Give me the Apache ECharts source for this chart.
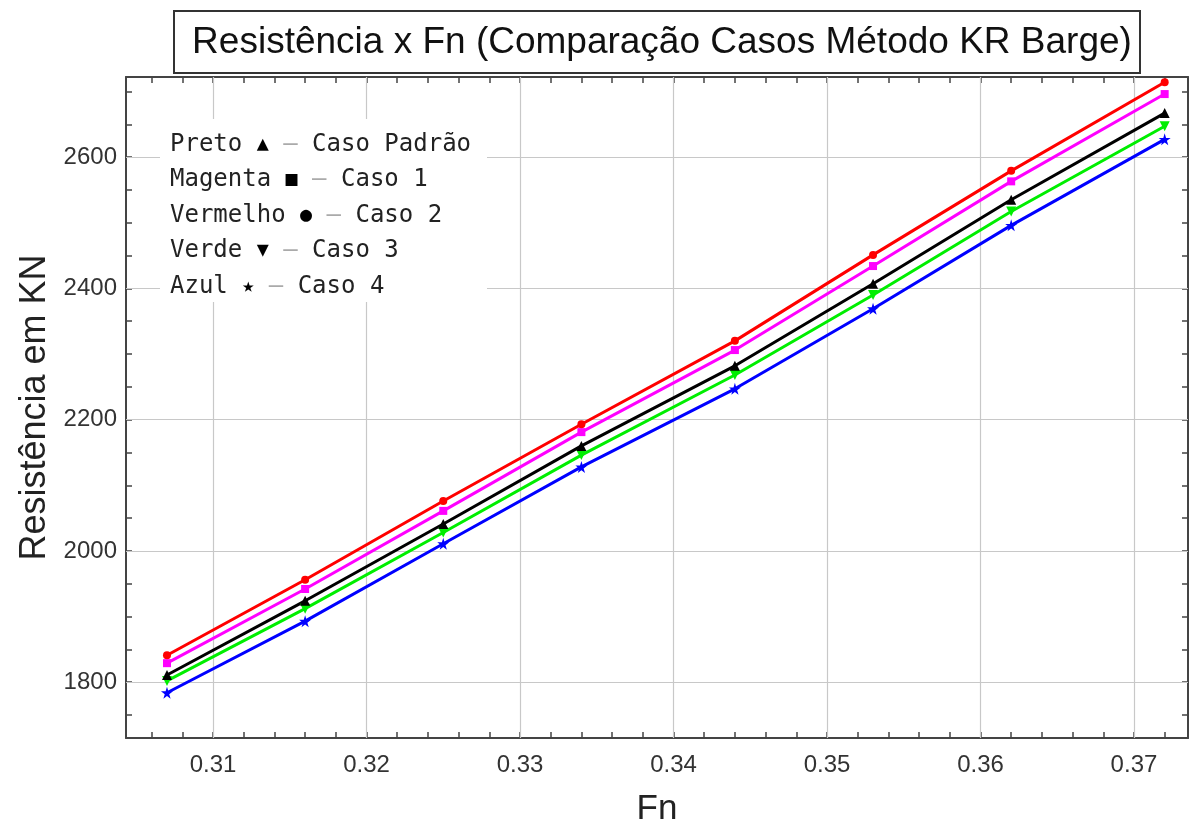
<!DOCTYPE html>
<html>
<head>
<meta charset="utf-8">
<script src="https://cdn.jsdelivr.net/npm/echarts@6/dist/echarts.min.js"></script>
<style>html,body{margin:0;padding:0;background:#fff;}#c{width:1192px;height:820px;}</style>
</head>
<body>
<div id="c"></div>
<script>
// ---- data ----
var fn = [0.307, 0.316, 0.325, 0.334, 0.344, 0.353, 0.362, 0.372];
var preto    = [1811, 1924, 2041, 2160, 2282, 2407, 2535, 2667];
var magenta  = [1829, 1942, 2061, 2181, 2306, 2434, 2563, 2696];
var vermelho = [1841, 1956, 2076, 2193, 2320, 2451, 2579, 2714];
var verde    = [1802, 1912, 2028, 2146, 2268, 2390, 2517, 2647];
var azul     = [1784, 1893, 2011, 2128, 2247, 2369, 2496, 2627];
var xMajor = [0.31, 0.32, 0.33, 0.34, 0.35, 0.36, 0.37];
var yMajor = [1800, 2000, 2200, 2400, 2600];
var titleText = 'Resistência x Fn (Comparação Casos Método KR Barge)';
var legendLines = [
  ['Preto', '▲', 'Caso Padrão'],
  ['Magenta', '■', 'Caso 1'],
  ['Vermelho', '●', 'Caso 2'],
  ['Verde', '▼', 'Caso 3'],
  ['Azul', '★', 'Caso 4']
];

var xMin = 0.30433, xMax = 0.37352, yMin = 1715, yMax = 2722;
var xTicks = [], yTicks = [];
for (var i = 153; i <= 186; i++) xTicks.push(+(i * 0.002).toFixed(3));
for (var j = 35; j <= 54; j++) yTicks.push(j * 50);

function pairs(ys) { return fn.map(function (x, k) { return [x, ys[k]]; }); }

var starPath = 'path://M50,0 L61,35 L98,35 L68,57 L79,91 L50,70 L21,91 L32,57 L2,35 L39,35 Z';
var downTri = 'path://M0,0 L10,0 L5,9 Z';

var frame = { show: true, lineStyle: { color: '#444', width: 2 } };
var tickStyle = function (vals) {
  return { show: true, inside: true, length: 6, customValues: vals, lineStyle: { color: '#444', width: 1.5 } };
};
var labelFont = { fontFamily: 'Liberation Sans, Arial, sans-serif', fontSize: 24, color: '#333' };

function mkSeries(name, ys, color, symbol, size) {
  return {
    name: name, type: 'line', data: pairs(ys), z: 5,
    lineStyle: { color: color, width: 3 },
    itemStyle: { color: color },
    symbol: symbol, symbolSize: size, showSymbol: true
  };
}

var legendText = legendLines.map(function (l) {
  return l[0] + ' {m|' + l[1] + '} {d|–} ' + l[2];
}).join('\n');

var chart = echarts.init(document.getElementById('c'));
chart.setOption({
  animation: false,
  backgroundColor: '#fff',
  grid: { left: 126, right: 4, top: 77, bottom: 82, containLabel: false, outerBoundsMode: 'none' },
  xAxis: [{
    type: 'value', min: xMin, max: xMax, position: 'bottom',
    axisLine: frame, axisTick: tickStyle(xTicks),
    axisLabel: Object.assign({ customValues: xMajor, margin: 15, formatter: function (v) { return v.toFixed(2); } }, labelFont),
    splitLine: { show: false },
    name: 'Fn', nameLocation: 'middle', nameGap: 54,
    nameTextStyle: { fontFamily: 'Liberation Sans, Arial, sans-serif', fontSize: 35, color: '#222' }
  }, {
    type: 'value', min: xMin, max: xMax, position: 'top',
    axisLine: frame, axisTick: tickStyle(xTicks),
    axisLabel: { show: false }, splitLine: { show: false }
  }],
  yAxis: [{
    type: 'value', min: yMin, max: yMax, position: 'left',
    axisLine: frame, axisTick: tickStyle(yTicks),
    axisLabel: Object.assign({ customValues: yMajor, margin: 9, formatter: function (v) { return String(v); } }, labelFont),
    splitLine: { show: false },
    name: 'Resistência em KN', nameLocation: 'middle', nameGap: 68, nameRotate: 90,
    nameTextStyle: { fontFamily: 'Liberation Sans, Arial, sans-serif', fontSize: 36, color: '#222' }
  }, {
    type: 'value', min: yMin, max: yMax, position: 'right',
    axisLine: frame, axisTick: tickStyle(yTicks),
    axisLabel: { show: false }, splitLine: { show: false }
  }],
  graphic: [
    { type: 'rect', z: 100, shape: { x: 174, y: 11, width: 966, height: 62 },
      style: { fill: '#fff', stroke: '#333', lineWidth: 2 } },
    { type: 'text', z: 101, x: 662, y: 43,
      style: { text: titleText, font: '37px "Liberation Sans", Arial, sans-serif', fill: '#111', align: 'center', verticalAlign: 'middle' } },
    { type: 'rect', z: 100, shape: { x: 160, y: 119, width: 327, height: 183 },
      style: { fill: '#fff' } },
    { type: 'text', z: 101, x: 170, y: 127,
      style: {
        text: legendText, fill: '#222',
        font: '24px "DejaVu Sans Mono", "Liberation Mono", monospace',
        lineHeight: 35.5, verticalAlign: 'top', align: 'left',
        rich: {
          m: { fill: '#000', font: '20px "DejaVu Sans Mono", "DejaVu Sans", monospace', lineHeight: 35.5 },
          d: { fill: '#aaa', font: '24px "DejaVu Sans Mono", "Liberation Mono", monospace', lineHeight: 35.5 }
        }
      } }
  ],
  series: [
    {
      type: 'line', data: [], silent: true, z: 1,
      markLine: {
        silent: true, symbol: 'none', animation: false,
        label: { show: false },
        lineStyle: { color: '#c8c8c8', width: 1.2, type: 'solid' },
        data: xMajor.map(function (v) { return { xAxis: v }; })
          .concat(yMajor.map(function (v) { return { yAxis: v }; }))
      }
    },
    mkSeries('Azul', azul, '#0000ff', starPath, 12),
    mkSeries('Verde', verde, '#00ee00', downTri, 10),
    mkSeries('Preto', preto, '#000000', 'triangle', 10),
    mkSeries('Magenta', magenta, '#ff00ff', 'rect', 8),
    mkSeries('Vermelho', vermelho, '#ff0000', 'circle', 8)
  ]
});
</script>
</body>
</html>
